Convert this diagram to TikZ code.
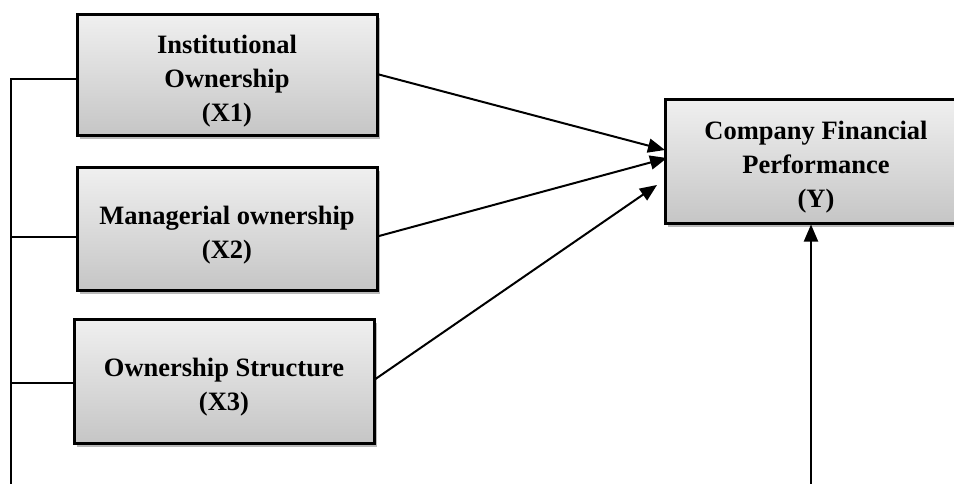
\documentclass[tikz,border=0pt]{standalone}
\usepackage{fontspec}
\setmainfont{Liberation Serif}
\usetikzlibrary{arrows.meta,shadows}
\newcommand{\toppad}{\rule{0pt}{31pt}}
\tikzset{
  varbox/.style={draw=black, line width=3pt, rectangle, align=center,
    top color=gray!12, bottom color=gray!45,
    drop shadow={shadow xshift=2.5pt, shadow yshift=-3.5pt, fill=gray!55, opacity=1},
    font=\fontsize{26.5}{34}\selectfont\bfseries, inner sep=0pt},
  conn/.style={line width=2pt, draw=black},
  arr/.style={conn, -{Triangle[length=17pt,width=14pt]}}
}
\begin{document}
\begin{tikzpicture}[x=1pt,y=-1pt]
\useasboundingbox (0,0) rectangle (954,483);
\clip (0,0) rectangle (954,483);
\node[varbox, minimum width=300pt, minimum height=121pt] (x1) at (227,74.5) {\toppad Institutional\\Ownership\\(X1)};
\node[varbox, minimum width=300pt, minimum height=123pt] (x2) at (227,228.5) {\toppad Managerial ownership\\(X2)};
\node[varbox, minimum width=300pt, minimum height=124pt] (x3) at (224,381) {\toppad Ownership Structure\\(X3)};
\node[varbox, minimum width=302pt, minimum height=124pt] (y) at (816,161) {\toppad Company Financial\\Performance\\(Y)};
% connector coordinates
\coordinate (s1) at (377,74);
\coordinate (s2) at (379,236);
\coordinate (s3) at (374,380);
\coordinate (e1) at (665,150);
\coordinate (e2) at (667,158);
\coordinate (e3) at (657,185);
\coordinate (lt) at (11,79);
\coordinate (lb) at (11,484);
\coordinate (l2) at (11,237);
\coordinate (l3) at (11,383);
\coordinate (bb) at (811,484);
\draw[arr] (s1) -- (e1);
\draw[arr] (s2) -- (e2);
\draw[arr] (s3) -- (e3);
\draw[conn] (lb) -- (lt) -- (lt -| x1.west);
\draw[conn] (l2) -- (l2 -| x2.west);
\draw[conn] (l3) -- (l3 -| x3.west);
\draw[arr] (bb) -- (bb |- y.south);
\end{tikzpicture}
\end{document}
